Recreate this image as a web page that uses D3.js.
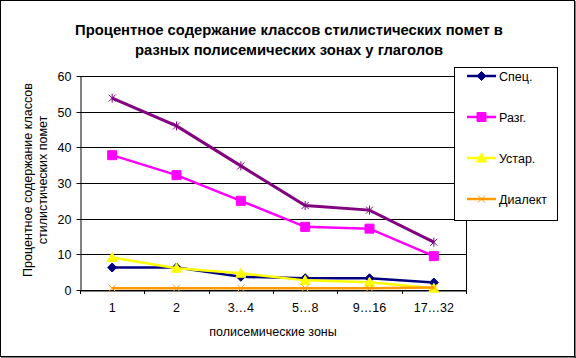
<!DOCTYPE html>
<html><head><meta charset="utf-8">
<script src="https://cdn.jsdelivr.net/npm/d3@7"></script>
<style>
html,body{margin:0;padding:0;background:#fff;}
svg{display:block;font-family:"Liberation Sans",Arial,sans-serif;}
</style></head>
<body>
<script>
const categories = ["1", "2", "3…4", "5…8", "9…16", "17…32"];
const spec    = [6.3, 6.3, 3.7, 3.3, 3.3, 2.1];
const razg    = [37.8, 32.2, 25.0, 17.7, 17.2, 9.5];
const ustar   = [9.1, 6.1, 4.7, 2.7, 2.2, 0.5];
const dialekt = [0.5, 0.5, 0.5, 0.5, 0.5, 0.7];
const total   = [53.8, 46.0, 34.8, 23.7, 22.4, 13.4];
const yTicks  = [0, 10, 20, 30, 40, 50, 60];
const titleLines = ["Процентное содержание классов стилистических помет в", "разных полисемических зонах у глаголов"];
const yTitleLines = ["Процентное содержание классов", "стилистических помет"];
const xTitle = "полисемические зоны";

const series = [
  {name: "Спец.", values: spec, color: "#000080", marker: "diamond", legend: true},
  {name: "Разг.", values: razg, color: "#FF00FF", marker: "square", legend: true},
  {name: "Устар.", values: ustar, color: "#FFFF00", marker: "triangle", legend: true},
  {name: "Диалект", values: dialekt, color: "#FF9900", marker: "x", legend: true},
  {name: "Всего", values: total, color: "#800080", marker: "star", legend: false}
];

const FS = 12.5, TFS = 14.8;
const W = 576, H = 358;
const svg = d3.select("body").append("svg").attr("width", W).attr("height", H);
svg.append("rect").attr("x", 0.5).attr("y", 0.5).attr("width", W - 2).attr("height", H - 2)
  .attr("fill", "#fff").attr("stroke", "#000").attr("stroke-width", 1);
svg.append("line").attr("x1", W - 1).attr("x2", W - 1).attr("y1", 1).attr("y2", H).attr("stroke", "#000");
svg.append("line").attr("x1", 1).attr("x2", W).attr("y1", H - 1).attr("y2", H - 1).attr("stroke", "#000");

const x = d3.scaleBand().domain(categories).range([80, 466]).padding(0);
const y = d3.scaleLinear().domain([0, 60]).range([290, 76]);
const cx = c => x(c) + x.bandwidth() / 2;

// title
svg.append("g").selectAll("text").data(titleLines).join("text")
  .attr("x", 289).attr("y", (d, i) => 35 + i * 20)
  .attr("text-anchor", "middle").attr("font-size", TFS).attr("font-weight", "bold").text(d => d);

// gridlines
svg.append("g").selectAll("line").data(yTicks).join("line")
  .attr("x1", 80).attr("x2", 466).attr("y1", d => Math.round(y(d)) + 0.5).attr("y2", d => Math.round(y(d)) + 0.5)
  .attr("stroke", "#000").attr("stroke-width", 1);
// right edge of plot
svg.append("line").attr("x1", 466.5).attr("x2", 466.5).attr("y1", y(60)).attr("y2", 294).attr("stroke", "#000");

// y axis
const yAxis = svg.append("g").attr("transform", "translate(80.5,0)")
  .call(d3.axisLeft(y).tickValues(yTicks).tickSize(4).tickSizeOuter(0).tickPadding(5));
yAxis.selectAll("line,path").attr("stroke", "#000");
yAxis.selectAll(".tick").attr("transform", d => `translate(0,${Math.round(y(d)) + 0.5})`);
yAxis.selectAll("text").attr("font-size", FS).attr("font-family", "Liberation Sans, Arial, sans-serif").attr("fill", "#000");

// x axis
const xAxis = svg.append("g").attr("transform", "translate(0,290.5)")
  .call(d3.axisBottom(x).tickSize(0).tickSizeOuter(0).tickPadding(13));
xAxis.select("path").attr("stroke", "#000");
xAxis.selectAll("text").attr("font-size", FS).attr("font-family", "Liberation Sans, Arial, sans-serif").attr("fill", "#000");
const bounds = categories.map(c => x(c)).concat([x.range()[1]]);
svg.append("g").selectAll("line").data(bounds).join("line")
  .attr("x1", d => Math.round(d) + 0.5).attr("x2", d => Math.round(d) + 0.5)
  .attr("y1", 290).attr("y2", 294).attr("stroke", "#000");

// axis titles
svg.append("text").attr("x", 273).attr("y", 336).attr("text-anchor", "middle").attr("font-size", FS).text(xTitle);
svg.append("g").selectAll("text").data(yTitleLines).join("text")
  .attr("transform", (d, i) => `translate(${31.5 + i * 15},180) rotate(-90)`)
  .attr("text-anchor", "middle").attr("font-size", FS).text(d => d);

// markers
function markerPath(type) {
  switch (type) {
    case "diamond": return "M0,-4.5L4.5,0L0,4.5L-4.5,0Z";
    case "square": return "M-4.5,-4.5H4.5V4.5H-4.5Z";
    case "triangle": return "M0,-5L5,4H-5Z";
    case "x": return "M-3.5,-3.5L3.5,3.5M-3.5,3.5L3.5,-3.5";
    case "star": return "M-3.5,-3.5L3.5,3.5M-3.5,3.5L3.5,-3.5M0,-4.5V4.5";
  }
}
const line = d3.line().x((d, i) => cx(categories[i])).y(d => y(d));
series.forEach(s => {
  const g = svg.append("g");
  g.append("path").attr("d", line(s.values)).attr("fill", "none").attr("stroke", s.color)
    .attr("stroke-width", s.marker === "star" ? 3 : 2.5);
  const open = s.marker === "x" || s.marker === "star";
  g.selectAll("path.m").data(s.values).join("path").attr("class", "m")
    .attr("transform", (d, i) => `translate(${cx(categories[i])},${y(d)})`)
    .attr("d", markerPath(s.marker))
    .attr("fill", open ? "none" : s.color)
    .attr("stroke", s.color).attr("stroke-width", 1);
});

// legend
const leg = svg.append("g");
leg.append("rect").attr("x", 454.5).attr("y", 67.5).attr("width", 103).attr("height", 153)
  .attr("fill", "#fff").attr("stroke", "#000");
const legItems = series.filter(s => s.legend);
const legY = [76, 117, 158, 199];
legItems.forEach((s, i) => {
  const yy = legY[i];
  leg.append("line").attr("x1", 467).attr("x2", 496).attr("y1", yy).attr("y2", yy)
    .attr("stroke", s.color).attr("stroke-width", 2.5);
  const open = s.marker === "x";
  leg.append("path").attr("transform", `translate(481.5,${yy})`).attr("d", markerPath(s.marker))
    .attr("fill", open ? "none" : s.color).attr("stroke", s.color).attr("stroke-width", 1);
  leg.append("text").attr("x", 499).attr("y", yy + 4.5).attr("font-size", FS).text(s.name);
});
</script>
</body></html>
